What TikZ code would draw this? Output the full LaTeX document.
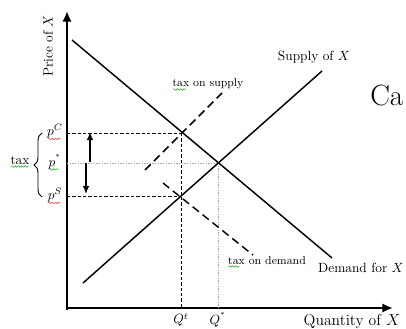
\documentclass[tikz,border=0pt]{standalone}
\usetikzlibrary{arrows.meta,decorations.pathreplacing,decorations.pathmorphing}
\begin{document}
\begin{tikzpicture}[x=0.75pt,y=-0.75pt,
  axis/.style={line width=2pt,-{Latex[length=8pt,width=7pt]}},
  curve/.style={line width=1.1pt},
  taxline/.style={line width=1.1pt,dash pattern=on 6pt off 3.5pt},
  guide/.style={line width=0.5pt,dash pattern=on 2.5pt off 1.5pt},
  faint/.style={line width=0.4pt,gray!70,dash pattern=on 1pt off 1pt},
  lbl/.style={inner sep=1pt,font=\fontsize{10}{12}\selectfont},
  small/.style={inner sep=1pt,font=\fontsize{8.6}{10}\selectfont},
  movearrow/.style={line width=1pt,-{Latex[length=6pt,width=5pt]}},
  wavyred/.style={red!80,line width=0.35pt,decorate,decoration={snake,amplitude=0.6pt,segment length=2.5pt}},
  wavygreen/.style={green!60!black,line width=0.35pt,decorate,decoration={snake,amplitude=0.6pt,segment length=2.5pt}}]
\useasboundingbox (0,0) rectangle (406,328);
% axes
\coordinate (O) at (67,310);
\coordinate (ytop) at (67,11);
\coordinate (xo) at (66,308);
\coordinate (xend) at (393,308);
\draw[axis] (O) -- (ytop);
\draw[axis] (xo) -- (xend);
% points
\coordinate (d1) at (72,40);
\coordinate (d2) at (332,258);
\coordinate (s1) at (83,283);
\coordinate (s2) at (322,71);
\coordinate (eq) at (218,163);
\coordinate (pc) at (181,133);
\coordinate (ps) at (181,196);
\coordinate (ts1) at (145,170);
\coordinate (ts2) at (222,93);
\coordinate (td1) at (163,183);
\coordinate (td2) at (253,255);
\coordinate (apc) at (67,133);
\coordinate (aps) at (67,196);
\coordinate (ape) at (67,163);
\coordinate (aqt) at (181,308);
\coordinate (aqe) at (218,308);
% guides
\draw[guide] (apc) -- (pc);
\draw[guide] (aps) -- (ps);
\draw[guide] (pc) -- (aqt);
\draw[faint] (ape) -- (eq);
\draw[faint] (eq) -- (aqe);
% curves
\draw[curve] (d1) -- (d2);
\draw[curve] (s1) -- (s2);
\draw[taxline] (ts1) -- (ts2);
\draw[taxline] (td1) -- (td2);
% arrows
\coordinate (u1) at (90,162);
\coordinate (u2) at (90,132);
\coordinate (w1) at (86,163);
\coordinate (w2) at (86,194);
\draw[movearrow] (u1) -- (u2);
\draw[movearrow] (w1) -- (w2);
% labels
\node[lbl,rotate=90] (py) at (48,46) {Price of $X$};
\node[inner sep=1pt,font=\fontsize{11.7}{14}\selectfont] (qx) at (352,322) {Quantity of $X$};
\node[lbl] (sx) at (314,57) {Supply of $X$};
\node[lbl] (dx) at (361,268) {Demand for $X$};
\node[small] (tsl) at (208,84) {tax on supply};
\node[small] (tdl) at (267,261) {tax on demand};
\node[inner sep=0pt,anchor=west,font=\fontsize{22}{26}\selectfont] (ca) at (370,95) {Ca};
\node[lbl] (lpc) at (55,131) {$p^C$};
\node[lbl] (lps) at (55,195) {$p^S$};
\node[lbl] (lpe) at (55,162) {$p^{^*}$};
\node[lbl] (lqt) at (181,320) {$Q^{t}$};
\node[lbl] (lqe) at (218,320) {$Q^{^*}$};
\node[lbl] (tax) at (20,160) {tax};
\coordinate (b1) at (42,197);
\coordinate (b2) at (42,133);
\draw[line width=0.7pt,decorate,decoration={brace,amplitude=6pt}] (b1) -- (b2);
% spell-check marks
\draw[wavyred] (48,139) -- (61,139);
\draw[wavyred] (48,203) -- (61,203);
\draw[wavygreen] (49,169.5) -- (59,169.5);
\draw[wavygreen] (11,166.5) -- (29,166.5);
\draw[wavygreen] (173,89.5) -- (186,89.5);
\draw[wavygreen] (228,266.5) -- (240,266.5);
\end{tikzpicture}
\end{document}
